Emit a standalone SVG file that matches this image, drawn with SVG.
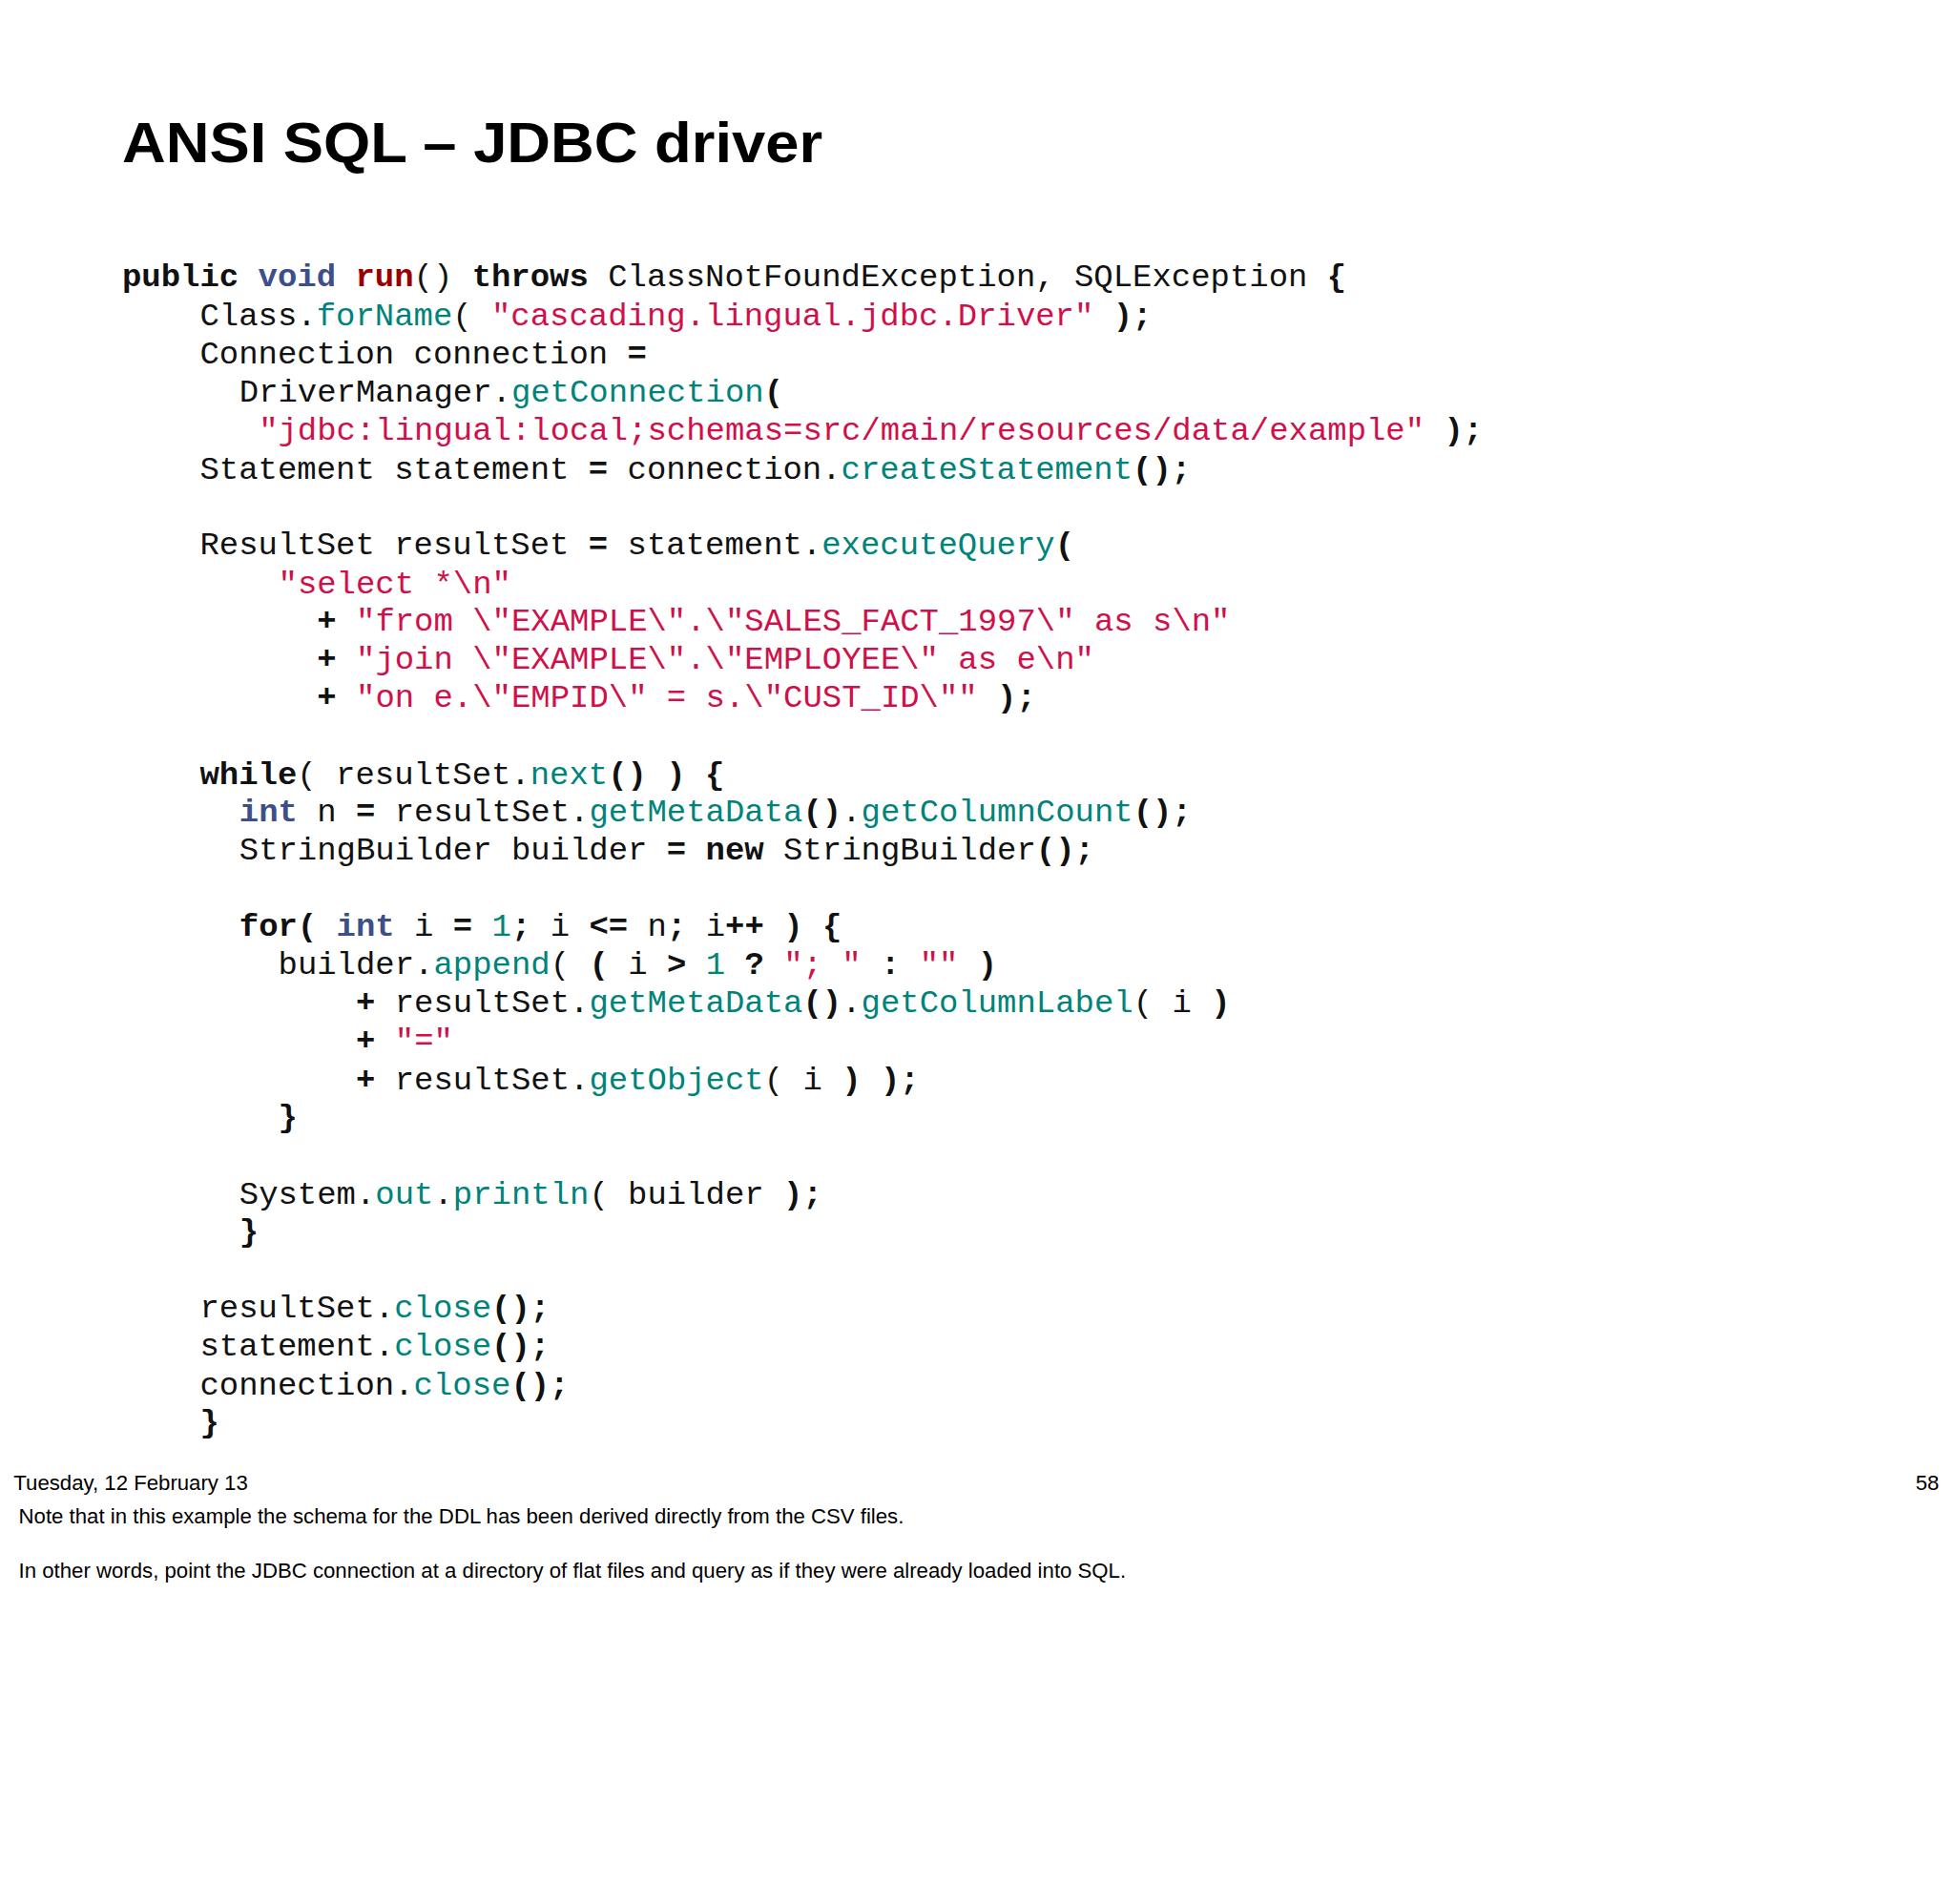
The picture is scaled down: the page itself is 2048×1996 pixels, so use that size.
<svg xmlns="http://www.w3.org/2000/svg" width="2048" height="1996" viewBox="0 0 2048 1996">
<style>
.c{font-family:"Liberation Mono","Courier New",monospace;font-size:26px;fill:#111;white-space:pre}
.k{font-weight:bold}
.t{fill:#3d4f8a;font-weight:bold}
.r{fill:#990000;font-weight:bold}
.m{fill:#00837a}
.s{fill:#d0104a}
.f{font-family:"Liberation Sans",Arial,sans-serif;font-size:17px;fill:#000}
</style>
<rect width="2048" height="1996" fill="#fff"/>
<g transform="scale(1.30612)">
<g id="title"><text x="98" y="130" font-family="Liberation Sans,Arial,sans-serif" font-weight="bold" font-size="46" textLength="562" lengthAdjust="spacingAndGlyphs">ANSI SQL – JDBC driver</text></g>
<g id="code" class="c" xml:space="preserve">
<text x="98" y="230"><tspan class="k">public</tspan> <tspan class="t">void</tspan> <tspan class="r">run</tspan>() <tspan class="k">throws</tspan> ClassNotFoundException, SQLException <tspan class="k">{</tspan></text>
<text x="160.4" y="261">Class.<tspan class="m">forName</tspan>( <tspan class="s">"cascading.lingual.jdbc.Driver"</tspan> <tspan class="k">);</tspan></text>
<text x="160.4" y="292">Connection connection <tspan class="k">=</tspan></text>
<text x="192" y="322">DriverManager.<tspan class="m">getConnection</tspan><tspan class="k">(</tspan></text>
<text x="207.6" y="353"><tspan class="s">"jdbc:lingual:local;schemas=src/main/resources/data/example"</tspan> <tspan class="k">);</tspan></text>
<text x="160.4" y="384">Statement statement <tspan class="k">=</tspan> connection.<tspan class="m">createStatement</tspan><tspan class="k">();</tspan></text>
<text x="160.4" y="445">ResultSet resultSet <tspan class="k">=</tspan> statement.<tspan class="m">executeQuery</tspan><tspan class="k">(</tspan></text>
<text x="223.2" y="476"><tspan class="s">"select *\n"</tspan></text>
<text x="254.4" y="506"><tspan class="k">+</tspan> <tspan class="s">"from \"EXAMPLE\".\"SALES_FACT_1997\" as s\n"</tspan></text>
<text x="254.4" y="537"><tspan class="k">+</tspan> <tspan class="s">"join \"EXAMPLE\".\"EMPLOYEE\" as e\n"</tspan></text>
<text x="254.4" y="567"><tspan class="k">+</tspan> <tspan class="s">"on e.\"EMPID\" = s.\"CUST_ID\""</tspan> <tspan class="k">);</tspan></text>
<text x="160.4" y="629"><tspan class="k">while</tspan>( resultSet.<tspan class="m">next</tspan><tspan class="k">()</tspan> <tspan class="k">)</tspan> <tspan class="k">{</tspan></text>
<text x="192" y="659"><tspan class="t">int</tspan> n <tspan class="k">=</tspan> resultSet.<tspan class="m">getMetaData</tspan><tspan class="k">()</tspan>.<tspan class="m">getColumnCount</tspan><tspan class="k">();</tspan></text>
<text x="192" y="690">StringBuilder builder <tspan class="k">=</tspan> <tspan class="k">new</tspan> StringBuilder<tspan class="k">();</tspan></text>
<text x="192" y="751"><tspan class="k">for(</tspan> <tspan class="t">int</tspan> i <tspan class="k">=</tspan> <tspan class="m">1</tspan><tspan class="k">;</tspan> i <tspan class="k">&lt;=</tspan> n<tspan class="k">;</tspan> i<tspan class="k">++</tspan> <tspan class="k">)</tspan> <tspan class="k">{</tspan></text>
<text x="223.2" y="782">builder.<tspan class="m">append</tspan>( <tspan class="k">(</tspan> i <tspan class="k">&gt;</tspan> <tspan class="m">1</tspan> <tspan class="k">?</tspan> <tspan class="s">"; "</tspan> <tspan class="k">:</tspan> <tspan class="s">""</tspan> <tspan class="k">)</tspan></text>
<text x="285.6" y="812"><tspan class="k">+</tspan> resultSet.<tspan class="m">getMetaData</tspan><tspan class="k">()</tspan>.<tspan class="m">getColumnLabel</tspan>( i <tspan class="k">)</tspan></text>
<text x="285.6" y="843"><tspan class="k">+</tspan> <tspan class="s">"="</tspan></text>
<text x="285.6" y="874"><tspan class="k">+</tspan> resultSet.<tspan class="m">getObject</tspan>( i <tspan class="k">)</tspan> <tspan class="k">);</tspan></text>
<text x="223.2" y="904"><tspan class="k">}</tspan></text>
<text x="192" y="966">System.<tspan class="m">out</tspan>.<tspan class="m">println</tspan>( builder <tspan class="k">);</tspan></text>
<text x="192" y="996"><tspan class="k">}</tspan></text>
<text x="160.4" y="1057">resultSet.<tspan class="m">close</tspan><tspan class="k">();</tspan></text>
<text x="160.4" y="1088">statement.<tspan class="m">close</tspan><tspan class="k">();</tspan></text>
<text x="160.4" y="1119">connection.<tspan class="m">close</tspan><tspan class="k">();</tspan></text>
<text x="160.4" y="1149"><tspan class="k">}</tspan></text>
</g>
<g id="footer" class="f">
<text x="11" y="1196">Tuesday, 12 February 13</text>
<text x="1556" y="1196" text-anchor="end">58</text>
<text x="15" y="1223">Note that in this example the schema for the DDL has been derived directly from the CSV files.</text>
<text x="15" y="1266">In other words, point the JDBC connection at a directory of flat files and query as if they were already loaded into SQL.</text>
</g>
</g>
</svg>
